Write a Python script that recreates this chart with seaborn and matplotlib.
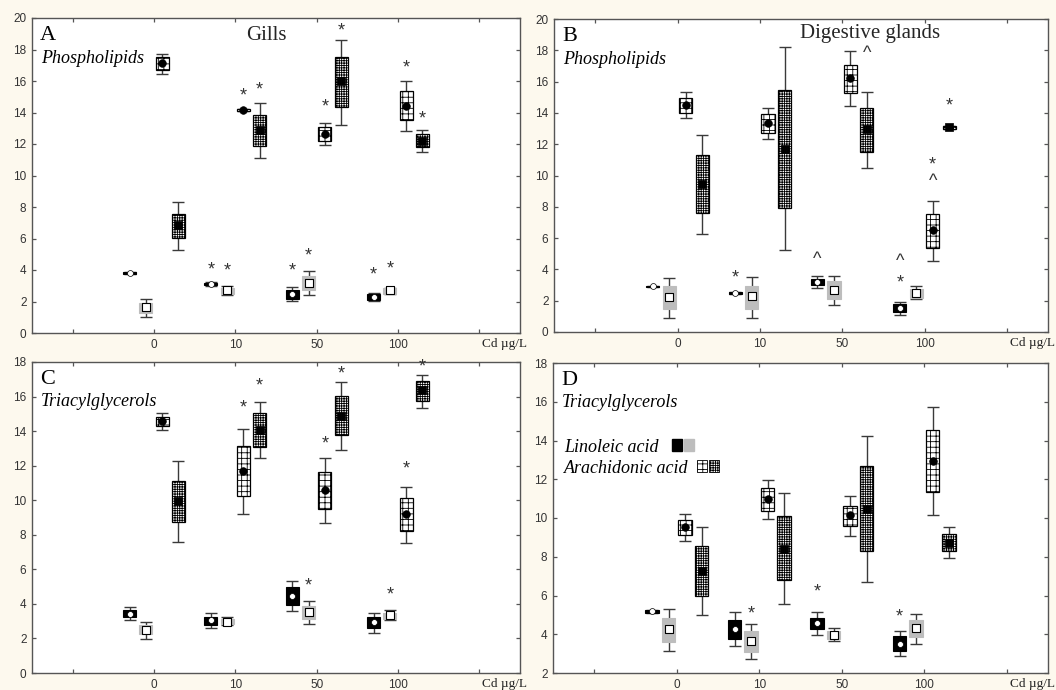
import numpy as np
import pandas as pd
import matplotlib
matplotlib.use("Agg")
import matplotlib.pyplot as plt
import matplotlib.transforms as mtransforms
from matplotlib.patches import Patch
from matplotlib.legend import Legend
from matplotlib.legend_handler import HandlerTuple
import seaborn as sns

# ---------------- data ----------------
groups = ["0", "10", "50", "100"]
series = ["Linoleic acid (1)", "Linoleic acid (2)", "Arachidonic acid (1)", "Arachidonic acid (2)"]

# rows = series (black, gray, sparse grid, dense grid); cols = Cd groups 0,10,50,100
A_mean = [[3.80, 3.10, 2.50, 2.29], [1.63, 2.71, 3.20, 2.71], [17.14, 14.15, 12.63, 14.43], [6.84, 12.87, 15.98, 12.19]]
A_box_lo = [[3.74, 3.03, 2.18, 2.12], [1.27, 2.50, 2.71, 2.50], [16.70, 14.08, 12.17, 13.50], [6.01, 11.85, 14.35, 11.81]]
A_box_hi = [[3.86, 3.20, 2.71, 2.48], [1.90, 2.86, 3.64, 2.84], [17.50, 14.22, 13.06, 15.39], [7.56, 13.84, 17.50, 12.61]]
A_wh_lo = [[3.74, 3.00, 2.01, 2.05], [1.02, 2.39, 2.41, 2.50], [16.47, 14.08, 11.92, 12.83], [5.25, 11.09, 13.23, 11.51]]
A_wh_hi = [[3.86, 3.25, 2.92, 2.54], [2.18, 3.00, 3.96, 2.84], [17.70, 14.22, 13.33, 16.02], [8.32, 14.58, 18.62, 12.87]]
A_marks = [(0, 1, "*", 4.02), (1, 1, "*", 3.92), (2, 1, "*", 15.03), (3, 1, "*", 15.41),
           (0, 2, "*", 3.96), (1, 2, "*", 4.87), (2, 2, "*", 14.33), (3, 2, "*", 19.2),
           (0, 3, "*", 3.70), (1, 3, "*", 4.06), (2, 3, "*", 16.8), (3, 3, "*", 13.6)]

B_mean = [[2.91, 2.49, 3.17, 1.53], [2.21, 2.28, 2.66, 2.51], [14.51, 13.34, 16.21, 6.51], [9.47, 11.70, 12.96, 13.09]]
B_box_lo = [[2.86, 2.44, 2.98, 1.28], [1.47, 1.47, 2.13, 2.19], [13.98, 12.74, 15.30, 5.36], [7.60, 7.91, 11.47, 13.00]]
B_box_hi = [[2.96, 2.54, 3.38, 1.79], [2.96, 2.96, 3.26, 2.77], [14.98, 13.91, 17.09, 7.53], [11.30, 15.47, 14.30, 13.17]]
B_wh_lo = [[2.86, 2.44, 2.81, 1.11], [0.89, 0.89, 1.70, 2.09], [13.70, 12.32, 14.45, 4.55], [6.28, 5.21, 10.45, 13.00]]
B_wh_hi = [[2.96, 2.54, 3.55, 1.89], [3.45, 3.49, 3.60, 2.96], [15.36, 14.34, 17.96, 8.34], [12.60, 18.23, 15.34, 13.17]]
B_marks = [(0, 1, "*", 3.45), (0, 2, "^", 4.66), (3, 2, "^", 17.81),
           (0, 3, "*", 3.13), (0, 3, "^", 4.51), (2, 3, "^", 9.62), (2, 3, "*", 10.68), (3, 3, "*", 14.45)]

C_mean = [[3.43, 3.04, 4.47, 2.93], [2.50, 2.98, 3.52, 3.33], [14.59, 11.69, 10.59, 9.20], [9.95, 14.09, 14.86, 16.37]]
C_box_lo = [[3.22, 2.77, 3.95, 2.58], [2.25, 2.83, 3.12, 3.14], [14.32, 10.24, 9.47, 8.22], [8.72, 13.09, 13.75, 15.75]]
C_box_hi = [[3.66, 3.27, 4.95, 3.23], [2.75, 3.12, 3.89, 3.50], [14.84, 13.13, 11.63, 10.11], [11.13, 15.02, 16.02, 16.88]]
C_wh_lo = [[3.04, 2.62, 3.56, 2.31], [1.98, 2.75, 2.85, 3.04], [14.09, 9.18, 8.70, 7.55], [7.60, 12.42, 12.92, 15.34]]
C_wh_hi = [[3.81, 3.47, 5.35, 3.50], [2.98, 3.22, 4.14, 3.62], [15.06, 14.15, 12.42, 10.78], [12.28, 15.69, 16.83, 17.25]]
C_marks = [(2, 1, "*", 15.31), (3, 1, "*", 16.62),
           (1, 2, "*", 5.01), (2, 2, "*", 13.25), (3, 2, "*", 17.33),
           (1, 3, "*", 4.49), (2, 3, "*", 11.80), (3, 3, "*", 17.71)]

D_mean = [[5.18, 4.29, 4.58, 3.51], [4.27, 3.67, 3.98, 4.31], [9.52, 11.00, 10.14, 12.92], [7.28, 8.40, 10.46, 8.71]]
D_box_lo = [[5.12, 3.77, 4.27, 3.15], [3.60, 3.08, 3.75, 3.86], [9.11, 10.34, 9.57, 11.32], [5.96, 6.78, 8.31, 8.28]]
D_box_hi = [[5.25, 4.75, 4.84, 3.89], [4.84, 4.15, 4.15, 4.75], [9.91, 11.55, 10.64, 14.56], [8.57, 10.09, 12.67, 9.17]]
D_wh_lo = [[5.12, 3.41, 3.98, 2.86], [3.12, 2.72, 3.63, 3.51], [8.83, 9.97, 9.09, 10.17], [5.01, 5.58, 6.70, 7.94]]
D_wh_hi = [[5.25, 5.13, 5.13, 4.15], [5.30, 4.55, 4.31, 5.06], [10.22, 11.98, 11.12, 15.71], [9.52, 11.29, 14.22, 9.52]]
D_marks = [(1, 1, "*", 5.05), (0, 2, "*", 6.16), (0, 3, "*", 4.87)]

legend_labels = ["Linoleic acid", "Arachidonic acid"]

# ---------------- style ----------------
sns.set_theme(style="ticks")
plt.rcParams["font.family"] = ["Liberation Sans", "DejaVu Sans"]
plt.rcParams["hatch.linewidth"] = 0.6
plt.rcParams["hatch.color"] = "black"

SERIF = ["Liberation Serif", "DejaVu Serif"]
BG = "#fdf9ee"
GRAY = "#bdbdbd"
SPARSE = "+++"
DENSE = "+++++++"
offsets = [-0.3, -0.1, 0.1, 0.3]
box_style = [
    dict(color="black", edgecolor="black", hatch=None, linewidth=0.8),
    dict(color=GRAY, edgecolor=GRAY, hatch=None, linewidth=0.8),
    dict(color="white", edgecolor="black", hatch=SPARSE, linewidth=0.9),
    dict(color="white", edgecolor="black", hatch=DENSE, linewidth=0.9),
]
mean_style = [
    dict(marker="o", color="white", edgecolor="black", linewidth=0.5, s=18),
    dict(marker="s", color="white", edgecolor="black", linewidth=0.8, s=26),
    dict(marker="o", color="black", edgecolor="black", linewidth=0.5, s=30),
    dict(marker="s", color="black", edgecolor="black", linewidth=0.5, s=28),
]

fig = plt.figure(figsize=(10.56, 6.9), dpi=100, facecolor=BG)
W, H = 1056, 690


def make_ax(l, t, r, b):
    return fig.add_axes([l / W, 1 - b / H, (r - l) / W, (b - t) / H])


def draw(ax, mean, blo, bhi, wlo, whi, marks, ylim, yticks, letter, lipid):
    ax.set_facecolor("white")
    x = np.arange(len(groups))
    for s in range(len(series)):
        xs = x + offsets[s]
        m = np.array(mean[s])
        lo, hi = np.array(wlo[s]), np.array(whi[s])
        ax.errorbar(xs, m, yerr=[m - lo, hi - m], fmt="none", ecolor="#3a3a3a",
                    elinewidth=1.0, capsize=4.5, capthick=1.0, zorder=1)
        b0, b1 = np.array(blo[s]), np.array(bhi[s])
        ax.bar(xs, b1 - b0, bottom=b0, width=0.16, zorder=2, **box_style[s])
    for s in range(len(series)):
        df = pd.DataFrame({"x": x + offsets[s], "mean": mean[s]})
        sns.scatterplot(data=df, x="x", y="mean", ax=ax, legend=False, zorder=3, **mean_style[s])
    for s, g, txt, y in marks:
        ax.text(g + offsets[s], y, txt, ha="center", va="center", fontsize=13,
                color="#333333", zorder=4)
    ax.set_xlim(-1.5, 4.5)
    ax.set_ylim(*ylim)
    ax.set_xticks(np.arange(-1, 5))
    ax.set_xticklabels([""] + groups + [""])
    ax.set_yticks(yticks)
    ax.set_yticklabels([str(v) for v in yticks])
    ax.set_xlabel("")
    ax.set_ylabel("")
    ax.tick_params(direction="in", top=True, right=True, length=3, width=0.9,
                   color="#555555", labelsize=8.5, labelcolor="#333333", pad=4)
    for sp in ax.spines.values():
        sp.set_color("#555555")
        sp.set_linewidth(1.0)
    trans = mtransforms.blended_transform_factory(ax.transData, ax.transAxes)
    ax.text(4.31, -0.036, "Cd µg/L", transform=trans, ha="center", va="center",
            fontsize=9.5, family=SERIF, color="#222222")
    ax.text(0.016, 0.945, letter, transform=ax.transAxes, ha="left", va="center",
            fontsize=16, family=SERIF, color="black")
    ax.text(0.018, 0.872, lipid, transform=ax.transAxes, ha="left", va="center",
            fontsize=13, family=SERIF, style="italic", color="black")


axA = make_ax(32, 18, 520, 333)
axB = make_ax(554, 19, 1048, 332)
axC = make_ax(32, 362, 520, 673)
axD = make_ax(553, 363, 1048, 673)

draw(axA, A_mean, A_box_lo, A_box_hi, A_wh_lo, A_wh_hi, A_marks, (0, 20), list(range(0, 21, 2)), "A", "Phospholipids")
draw(axB, B_mean, B_box_lo, B_box_hi, B_wh_lo, B_wh_hi, B_marks, (0, 20), list(range(0, 21, 2)), "B", "Phospholipids")
draw(axC, C_mean, C_box_lo, C_box_hi, C_wh_lo, C_wh_hi, C_marks, (0, 18), list(range(0, 19, 2)), "C", "Triacylglycerols")
draw(axD, D_mean, D_box_lo, D_box_hi, D_wh_lo, D_wh_hi, D_marks, (2, 18), list(range(2, 19, 2)), "D", "Triacylglycerols")

axA.text(0.48, 0.943, "Gills", transform=axA.transAxes, ha="center", va="center",
         fontsize=15, family=SERIF)
axB.text(0.64, 0.955, "Digestive glands", transform=axB.transAxes, ha="center", va="center",
         fontsize=15, family=SERIF)

handle_sets = [
    (Patch(facecolor="black", edgecolor="black"), Patch(facecolor=GRAY, edgecolor=GRAY)),
    (Patch(facecolor="white", edgecolor="black", hatch=SPARSE, linewidth=0.6),
     Patch(facecolor="white", edgecolor="black", hatch=DENSE, linewidth=0.6)),
]
row_y = [0.729, 0.661]
text_pad = [0.75, 0.5]
for i, (hs, lab) in enumerate(zip(handle_sets, legend_labels)):
    leg = Legend(axD, [hs], [lab],
                 handler_map={tuple: HandlerTuple(ndivide=None, pad=0.1)},
                 loc="center left", bbox_to_anchor=(0.022, row_y[i]), frameon=False,
                 markerfirst=False, handlelength=1.2, handleheight=0.6,
                 handletextpad=text_pad[i], borderpad=0.0, borderaxespad=0.0,
                 labelcolor="black",
                 prop=dict(family=SERIF, style="italic", size=13))
    axD.add_artist(leg)

fig.savefig("out.png", dpi=100, facecolor=BG)
